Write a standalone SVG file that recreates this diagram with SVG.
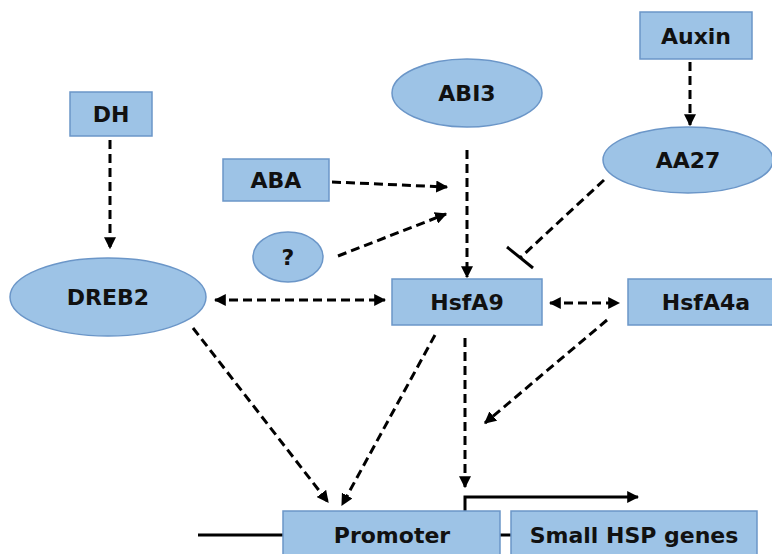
<svg xmlns="http://www.w3.org/2000/svg" width="772" height="554" viewBox="0 0 772 554">
<defs>
<style>
.n{fill:#9dc3e6;stroke:#6b96c8;stroke-width:1.5}
.t{font-family:"DejaVu Sans",sans-serif;font-weight:bold;font-size:22px;fill:#111;text-anchor:middle}
.d{fill:none;stroke:#000;stroke-width:3;stroke-dasharray:9,5}
.s{fill:none;stroke:#000;stroke-width:3}
</style>
<marker id="a" viewBox="0 0 10 10" refX="9" refY="5" markerWidth="4" markerHeight="4" orient="auto-start-reverse" markerUnits="strokeWidth">
<path d="M0,0 L10,5 L0,10 Z" fill="#000"/>
</marker>
</defs>
<rect width="772" height="554" fill="#fff"/>
<g id="connectors">
<line class="d" x1="110" y1="140" x2="110" y2="248" marker-end="url(#a)"/>
<line class="d" x1="690" y1="62" x2="690" y2="125" marker-end="url(#a)"/>
<line class="d" x1="467" y1="150" x2="467" y2="277" marker-end="url(#a)"/>
<line class="d" x1="332" y1="182" x2="447" y2="187" marker-end="url(#a)"/>
<line class="d" x1="338" y1="256" x2="446" y2="214" marker-end="url(#a)"/>
<line class="d" x1="604" y1="180" x2="520" y2="258"/>
<line class="s" x1="507" y1="247" x2="533" y2="268"/>
<line class="d" x1="215" y1="300" x2="385" y2="300" marker-start="url(#a)" marker-end="url(#a)"/>
<line class="d" x1="550" y1="303" x2="619" y2="303" marker-start="url(#a)" marker-end="url(#a)"/>
<line class="d" x1="193" y1="328" x2="328" y2="502" marker-end="url(#a)"/>
<line class="d" x1="435" y1="335" x2="342" y2="505" marker-end="url(#a)"/>
<line class="d" x1="465" y1="338" x2="465" y2="487" marker-end="url(#a)"/>
<line class="d" x1="607" y1="320" x2="485" y2="423" marker-end="url(#a)"/>
<line class="s" x1="198" y1="535" x2="283" y2="535"/>
<line class="s" x1="500" y1="535" x2="511" y2="535"/>
<polyline class="s" points="465,511 465,497 638,497" marker-end="url(#a)"/>
</g>
<g id="DH"><rect class="n" x="70" y="92" width="82" height="44"/><text class="t" x="111" y="122">DH</text></g>
<g id="ABA"><rect class="n" x="223" y="159" width="106" height="42"/><text class="t" x="276" y="188">ABA</text></g>
<g id="Q"><ellipse class="n" cx="288" cy="257" rx="35" ry="25"/><text class="t" x="288" y="265">?</text></g>
<g id="DREB2"><ellipse class="n" cx="108" cy="297" rx="98" ry="39"/><text class="t" x="108" y="305">DREB2</text></g>
<g id="ABI3"><ellipse class="n" cx="467" cy="93" rx="75" ry="34"/><text class="t" x="467" y="101">ABI3</text></g>
<g id="Auxin"><rect class="n" x="640" y="12" width="112" height="47"/><text class="t" x="696" y="44">Auxin</text></g>
<g id="AA27"><ellipse class="n" cx="688" cy="160" rx="85" ry="33"/><text class="t" x="688" y="168">AA27</text></g>
<g id="HsfA9"><rect class="n" x="392" y="279" width="150" height="46"/><text class="t" x="467" y="310">HsfA9</text></g>
<g id="HsfA4a"><rect class="n" x="628" y="279" width="150" height="46"/><text class="t" x="706" y="310">HsfA4a</text></g>
<g id="Promoter"><rect class="n" x="283" y="511" width="217" height="50"/><text class="t" x="392" y="543">Promoter</text></g>
<g id="SmallHSP"><rect class="n" x="511" y="511" width="246" height="50"/><text class="t" x="634" y="543">Small HSP genes</text></g>
</svg>
